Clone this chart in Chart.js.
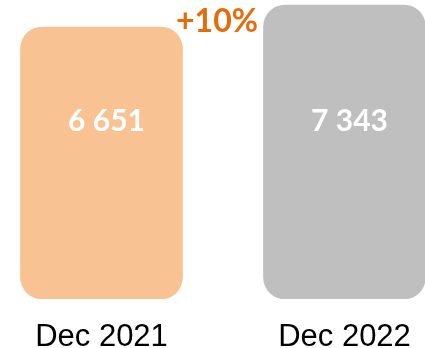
<!DOCTYPE html>
<html lang="en">
<head>
  <meta charset="UTF-8">
  <title>Dec 2021 vs Dec 2022</title>
  <script src="https://cdn.jsdelivr.net/npm/chart.js"></script>
  <style>
    html, body {
      margin: 0;
      padding: 0;
      background: #fff;
      overflow: hidden;
    }
    /* canvas is a bit wider than the window, the right bar gets cut at the edge */
    .chart-container {
      width: 486px;
      height: 348px;
      margin-left: -20px;
    }
  </style>
</head>
<body>
  <div class="chart-container">
    <canvas id="myBarChart"></canvas>
  </div>

  <script>
    const categories = ['Dec 2021', 'Dec 2022'];
    const values = [6651, 7343];
    const barColors = ['#F9C292', '#BFBFBF'];

    // value labels inside the bars + growth label between them
    const labelPlugin = {
      id: 'labelPlugin',
      afterDatasetsDraw(chart) {
        const ctx = chart.ctx;
        const bars = chart.getDatasetMeta(0).data;
        ctx.save();
        ctx.textAlign = 'center';
        ctx.textBaseline = 'middle';
        ctx.font = 'bold 30px Lato, "Open Sans", sans-serif';
        ctx.fillStyle = '#fff';
        bars.forEach((bar, i) => {
          const txt = values[i].toLocaleString('en-US').replace(/,/g, ' ');
          ctx.fillText(txt, bar.x + 5, chart.chartArea.top + 121);
        });

        const growth = Math.round((values[1] / values[0] - 1) * 100);
        ctx.font = 'bold 32px Lato, "Open Sans", sans-serif';
        ctx.fillStyle = '#E46C0A';
        const mid = (bars[0].x + bars[1].x) / 2 - 6;
        ctx.fillText('+' + growth + '%', mid, chart.chartArea.top + 22);
        ctx.restore();
      }
    };

    const barChartCtx = document.getElementById('myBarChart').getContext('2d');
    const myBarChart = new Chart(barChartCtx, {
      type: 'bar',
      data: {
        labels: categories,
        datasets: [{
          data: values,
          backgroundColor: barColors,
          borderRadius: 22,
          borderSkipped: false,
          barThickness: 162,
          base: -1905
        }]
      },
      options: {
        responsive: true,
        maintainAspectRatio: false,
        animation: false,
        layout: {
          padding: 0
        },
        plugins: {
          legend: { display: false },
          tooltip: { enabled: false }
        },
        scales: {
          y: {
            display: false,
            min: -1905,
            max: 7500
          },
          x: {
            grid: { display: false },
            border: { display: false },
            ticks: {
              color: '#000',
              padding: 12,
              font: { family: '"Liberation Sans", Arial, sans-serif', size: 31 }
            },
            afterFit(scale) {
              scale.height = 49;
            }
          }
        }
      },
      plugins: [labelPlugin]
    });
  </script>
</body>
</html>
